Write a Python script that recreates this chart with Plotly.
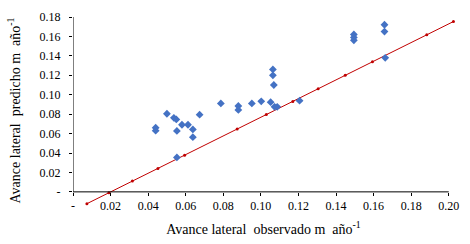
import plotly.graph_objects as go

# Observed vs predicted lateral advance (m/año)
obs = [0.044, 0.044, 0.050, 0.0537, 0.055, 0.0553, 0.058, 0.0612, 0.0638, 0.0638,
       0.0674, 0.0553, 0.0787, 0.088, 0.088, 0.0952, 0.1002, 0.1052, 0.1064, 0.1064,
       0.1069, 0.1073, 0.1087, 0.1206, 0.1495, 0.1495, 0.1495, 0.1658, 0.1658, 0.1662]
pred = [0.066, 0.063, 0.0804, 0.0762, 0.0746, 0.0627, 0.0691, 0.0691, 0.0643, 0.0563,
        0.0795, 0.0354, 0.091, 0.0884, 0.0843, 0.091, 0.0932, 0.0923, 0.126, 0.120,
        0.110, 0.0875, 0.0875, 0.0939, 0.162, 0.159, 0.156, 0.172, 0.165, 0.138]

# Reference (fitted) line
line_x = [0.0074, 0.0191, 0.0316, 0.0452, 0.0594, 0.0874, 0.1029, 0.117,
          0.1305, 0.1449, 0.1594, 0.1883, 0.2025]
slope, intercept = 0.961, -0.0193
line_y = [slope * v + intercept for v in line_x]

tick_vals = [0, 0.02, 0.04, 0.06, 0.08, 0.10, 0.12, 0.14, 0.16, 0.18, 0.20]
x_tick_text = ["-", "0.02", "0.04", "0.06", "0.08", "0.10", "0.12", "0.14", "0.16", "0.18", "0.20"]
y_tick_vals = tick_vals[:-1]
y_tick_text = ["-", "0.02", "0.04", "0.06", "0.08", "0.10", "0.12", "0.14", "0.16", "0.18"]

x_range = [0, 0.2028]
y_range = [-0.0125, 0.18]

font = "Liberation Serif, Times New Roman, serif"

fig = go.Figure()
fig.add_trace(go.Scatter(
    x=line_x, y=line_y, mode="lines+markers",
    line=dict(color="#C00000", width=1),
    marker=dict(color="#C00000", size=3),
    showlegend=False, cliponaxis=False))
fig.add_trace(go.Scatter(
    x=obs, y=pred, mode="markers",
    marker=dict(color="#4472C4", size=6, symbol="diamond"),
    showlegend=False))

# axis lines
fig.add_shape(type="line", xref="x", yref="y", x0=0, x1=0.20, y0=0, y1=0,
              line=dict(color="black", width=1))
fig.add_shape(type="line", xref="x", yref="y", x0=0, x1=0, y0=0, y1=0.18,
              line=dict(color="black", width=1))

pos = (0 - y_range[0]) / (y_range[1] - y_range[0])

fig.update_layout(
    width=470, height=244,
    margin=dict(l=73, r=16, t=10, b=34),
    paper_bgcolor="white", plot_bgcolor="white",
    font=dict(family=font, size=12, color="black"),
    xaxis=dict(range=x_range, tickvals=tick_vals, ticktext=x_tick_text,
               showgrid=False, zeroline=False, showline=False,
               ticks="outside", ticklen=3, tickcolor="black",
               anchor="free", position=pos, ticklabeloverflow="allow",
               tickfont=dict(family=font, size=12),
               title=dict(text="Avance lateral  observado m  año<sup>-1</sup>",
                          font=dict(family=font, size=14), standoff=11)),
    yaxis=dict(range=y_range, tickvals=y_tick_vals, ticktext=y_tick_text,
               showgrid=False, zeroline=False, showline=False,
               ticks="outside", ticklen=3, tickcolor="black",
               ticklabelstandoff=6,
               tickfont=dict(family=font, size=12),
               title=dict(text="Avance lateral  predicho m  año<sup>-1</sup>",
                          font=dict(family=font, size=14), standoff=15)),
)

fig.write_html("out.html",
               config={"displayModeBar": False},
               post_script="document.body.style.margin='0';document.body.style.overflow='hidden';")
